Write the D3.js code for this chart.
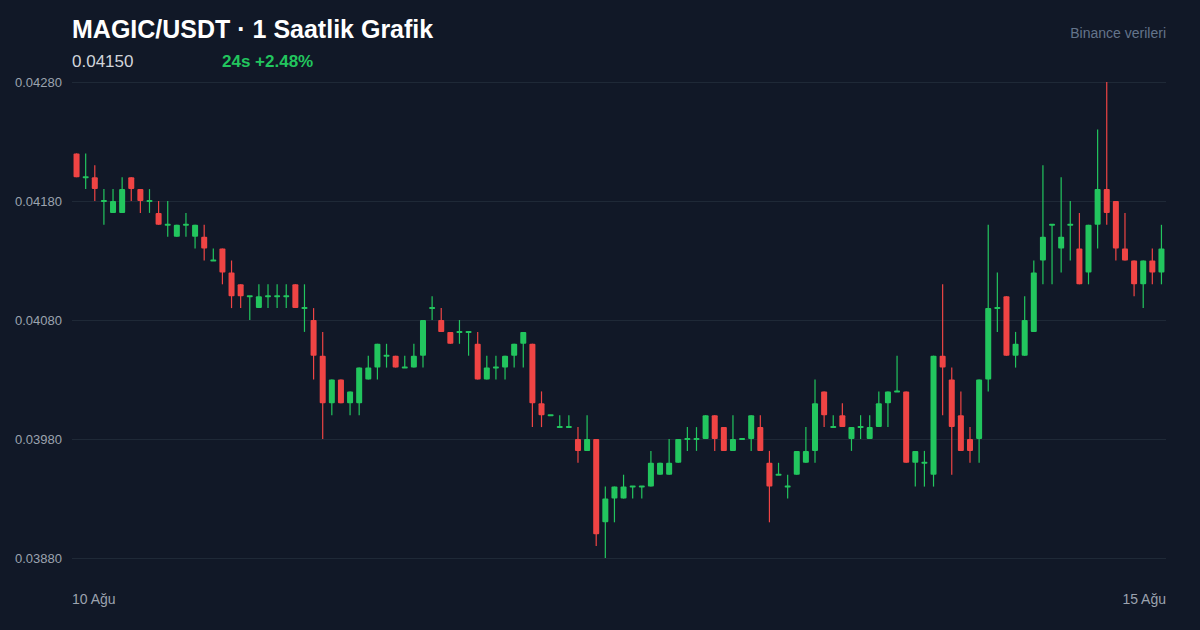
<!DOCTYPE html>
<html>
<head>
<meta charset="utf-8">
<script src="https://cdn.jsdelivr.net/npm/d3@7/dist/d3.min.js"></script>
<style>
html,body{margin:0;padding:0;background:#111827;}
svg{display:block;font-family:"Liberation Sans",Arial,Helvetica,sans-serif;}
</style>
</head>
<body>
<svg id="chart" width="1200" height="630"></svg>
<script>
// Hourly candles, 10 Ağu -> 15 Ağu (MAGIC/USDT)
const opens  = [0.0422,0.0420,0.0420,0.0418,0.0417,0.0417,0.0420,0.0419,0.0418,0.0417,0.0416,0.0415,0.0416,0.0415,0.0415,0.0413,0.0414,0.0412,0.0411,0.0410,
                0.0409,0.0410,0.0410,0.0410,0.0411,0.0409,0.0408,0.0405,0.0401,0.0403,0.0401,0.0401,0.0403,0.0404,0.0405,0.0405,0.0404,0.0404,0.0405,0.0409,
                0.0408,0.0407,0.0407,0.0407,0.0406,0.0403,0.0404,0.0404,0.0405,0.0406,0.0406,0.0401,0.0400,0.0399,0.0399,0.0398,0.0397,0.0398,0.0391,0.0393,
                0.0393,0.0394,0.0394,0.0394,0.0395,0.0395,0.0396,0.0398,0.0398,0.0398,0.0400,0.0399,0.0397,0.0398,0.0398,0.0399,0.0396,0.0395,0.0394,0.0395,
                0.0396,0.0397,0.0402,0.0399,0.0400,0.0398,0.0399,0.0398,0.0399,0.0401,0.0402,0.0402,0.0396,0.0396,0.0395,0.0405,0.0403,0.0400,0.0398,0.0398,
                0.0403,0.0409,0.0410,0.0405,0.0405,0.0407,0.0413,0.0416,0.0414,0.0416,0.0414,0.0412,0.0416,0.0419,0.0418,0.0414,0.0413,0.0411,0.0413,0.0412];
const highs  = [0.0422,0.0422,0.0421,0.0419,0.0419,0.0420,0.0420,0.0419,0.0419,0.0418,0.0418,0.0416,0.0417,0.0416,0.0416,0.0414,0.0414,0.0413,0.0411,0.0410,
                0.0411,0.0411,0.0411,0.0411,0.0411,0.0411,0.0409,0.0407,0.0403,0.0403,0.0402,0.0404,0.0405,0.0406,0.0406,0.0405,0.0405,0.0406,0.0408,0.0410,
                0.0409,0.0407,0.0408,0.0407,0.0407,0.0405,0.0405,0.0405,0.0406,0.0407,0.0406,0.0402,0.0400,0.0400,0.0400,0.0399,0.0400,0.0398,0.0394,0.0394,
                0.0395,0.0394,0.0394,0.0397,0.0396,0.0398,0.0398,0.0399,0.0399,0.0400,0.0400,0.0399,0.0400,0.0398,0.0400,0.0400,0.0397,0.0396,0.0395,0.0397,
                0.0399,0.0403,0.0402,0.0400,0.0401,0.0399,0.0400,0.0400,0.0402,0.0402,0.0405,0.0402,0.0397,0.0397,0.0405,0.0411,0.0404,0.0402,0.0399,0.0403,
                0.0416,0.0412,0.0410,0.0407,0.0410,0.0413,0.0421,0.0416,0.0420,0.0418,0.0417,0.0416,0.0424,0.0428,0.0418,0.0417,0.0413,0.0413,0.0414,0.0416];
const lows   = [0.0420,0.0419,0.0418,0.0416,0.0417,0.0417,0.0418,0.0417,0.0417,0.0416,0.0415,0.0415,0.0415,0.0414,0.0413,0.0413,0.0411,0.0409,0.0409,0.0408,
                0.0409,0.0409,0.0409,0.0409,0.0409,0.0407,0.0403,0.0398,0.0400,0.0401,0.0400,0.0400,0.0403,0.0403,0.0404,0.0404,0.0404,0.0404,0.0404,0.0408,
                0.0407,0.0406,0.0406,0.0405,0.0403,0.0403,0.0403,0.0403,0.0404,0.0404,0.0399,0.0399,0.0400,0.0399,0.0399,0.0396,0.0397,0.0389,0.0388,0.0391,
                0.0393,0.0393,0.0393,0.0394,0.0395,0.0395,0.0396,0.0397,0.0397,0.0398,0.0397,0.0397,0.0397,0.0398,0.0397,0.0397,0.0391,0.0395,0.0393,0.0395,
                0.0396,0.0396,0.0399,0.0399,0.0399,0.0397,0.0398,0.0398,0.0399,0.0399,0.0402,0.0396,0.0394,0.0394,0.0394,0.0400,0.0395,0.0397,0.0396,0.0396,
                0.0402,0.0407,0.0405,0.0404,0.0405,0.0407,0.0411,0.0411,0.0412,0.0413,0.0411,0.0411,0.0414,0.0416,0.0413,0.0413,0.0410,0.0409,0.0411,0.0411];
const closes = [0.0420,0.0420,0.0419,0.0418,0.0418,0.0419,0.0419,0.0418,0.0418,0.0416,0.0416,0.0416,0.0416,0.0416,0.0414,0.0413,0.0412,0.0410,0.0410,0.0410,
                0.0410,0.0410,0.0410,0.0410,0.0409,0.0409,0.0405,0.0401,0.0403,0.0401,0.0402,0.0404,0.0404,0.0406,0.0405,0.0404,0.0404,0.0405,0.0408,0.0409,
                0.0407,0.0406,0.0407,0.0407,0.0403,0.0404,0.0404,0.0405,0.0406,0.0407,0.0401,0.0400,0.0400,0.0399,0.0399,0.0397,0.0398,0.0390,0.0393,0.0394,
                0.0394,0.0394,0.0394,0.0396,0.0396,0.0396,0.0398,0.0398,0.0398,0.0400,0.0398,0.0397,0.0398,0.0398,0.0400,0.0397,0.0394,0.0395,0.0394,0.0397,
                0.0397,0.0401,0.0400,0.0399,0.0399,0.0399,0.0399,0.0399,0.0401,0.0402,0.0402,0.0396,0.0397,0.0396,0.0405,0.0404,0.0399,0.0397,0.0397,0.0403,
                0.0409,0.0409,0.0405,0.0406,0.0408,0.0412,0.0415,0.0416,0.0415,0.0416,0.0411,0.0416,0.0419,0.0417,0.0414,0.0413,0.0411,0.0413,0.0412,0.0414];
const yTicks = [0.0388, 0.0398, 0.0408, 0.0418, 0.0428];
const xLabels = ["10 Ağu", "15 Ağu"];
const titleText = "MAGIC/USDT · 1 Saatlik Grafik";
const lastPriceText = "0.04150";
const changeText = "24s +2.48%";
const sourceText = "Binance verileri";

const candles = opens.map((o, i) => ({i, o, h: highs[i], l: lows[i], c: closes[i]}));

const W = 1200, H = 630;
const m = {left: 72, right: 34, top: 82, bottom: 72};
const svg = d3.select("#chart");
svg.append("rect").attr("width", W).attr("height", H).attr("fill", "#111827");

const x = d3.scaleBand().domain(candles.map(d => d.i)).range([m.left, W - m.right]).paddingInner(0.34).paddingOuter(0.17);
const y = d3.scaleLinear().domain([0.0388, 0.0428]).range([H - m.bottom, m.top]);

// grid + y labels
const yAxis = d3.axisLeft(y).tickValues(yTicks).tickSize(-(W - m.left - m.right)).tickPadding(10).tickFormat(d3.format(".5f"));
const gy = svg.append("g").attr("transform", `translate(${m.left},0)`).call(yAxis);
gy.select(".domain").remove();
gy.selectAll(".tick line").attr("stroke", "#1f2937").attr("stroke-width", 1.2);
gy.selectAll(".tick text").attr("fill", "#9ca3af").attr("font-size", 13).attr("font-family", "Liberation Sans, Arial, sans-serif");

// candles
const up = "#22c55e", down = "#ef4444";
const g = svg.append("g");
const cg = g.selectAll("g.c").data(candles).enter().append("g");
cg.append("line")
  .attr("x1", d => x(d.i) + x.bandwidth() / 2).attr("x2", d => x(d.i) + x.bandwidth() / 2)
  .attr("y1", d => y(d.h)).attr("y2", d => y(d.l))
  .attr("stroke", d => d.c >= d.o ? up : down).attr("stroke-width", 1.2);
cg.append("rect")
  .attr("x", d => x(d.i)).attr("width", x.bandwidth())
  .attr("y", d => Math.min(y(d.o), y(d.c)) - (d.o === d.c ? 1 : 0))
  .attr("height", d => Math.max(2, Math.abs(y(d.o) - y(d.c))))
  .attr("rx", 1)
  .attr("fill", d => d.c >= d.o ? up : down);

// x labels
svg.append("text").attr("x", m.left).attr("y", 604).attr("fill", "#9ca3af").attr("font-size", 14).text(xLabels[0]);
svg.append("text").attr("x", W - m.right).attr("y", 604).attr("text-anchor", "end").attr("fill", "#9ca3af").attr("font-size", 14).text(xLabels[1]);

// header
svg.append("text").attr("x", 72).attr("y", 38).attr("fill", "#ffffff").attr("font-size", 25).attr("font-weight", "bold").text(titleText);
svg.append("text").attr("x", 72).attr("y", 67).attr("fill", "#d1d5db").attr("font-size", 17).text(lastPriceText);
svg.append("text").attr("x", 222).attr("y", 67).attr("fill", "#22c55e").attr("font-size", 17).attr("font-weight", "bold").text(changeText);
svg.append("text").attr("x", W - m.right).attr("y", 38).attr("text-anchor", "end").attr("fill", "#64748b").attr("font-size", 14).text(sourceText);
</script>
</body>
</html>
